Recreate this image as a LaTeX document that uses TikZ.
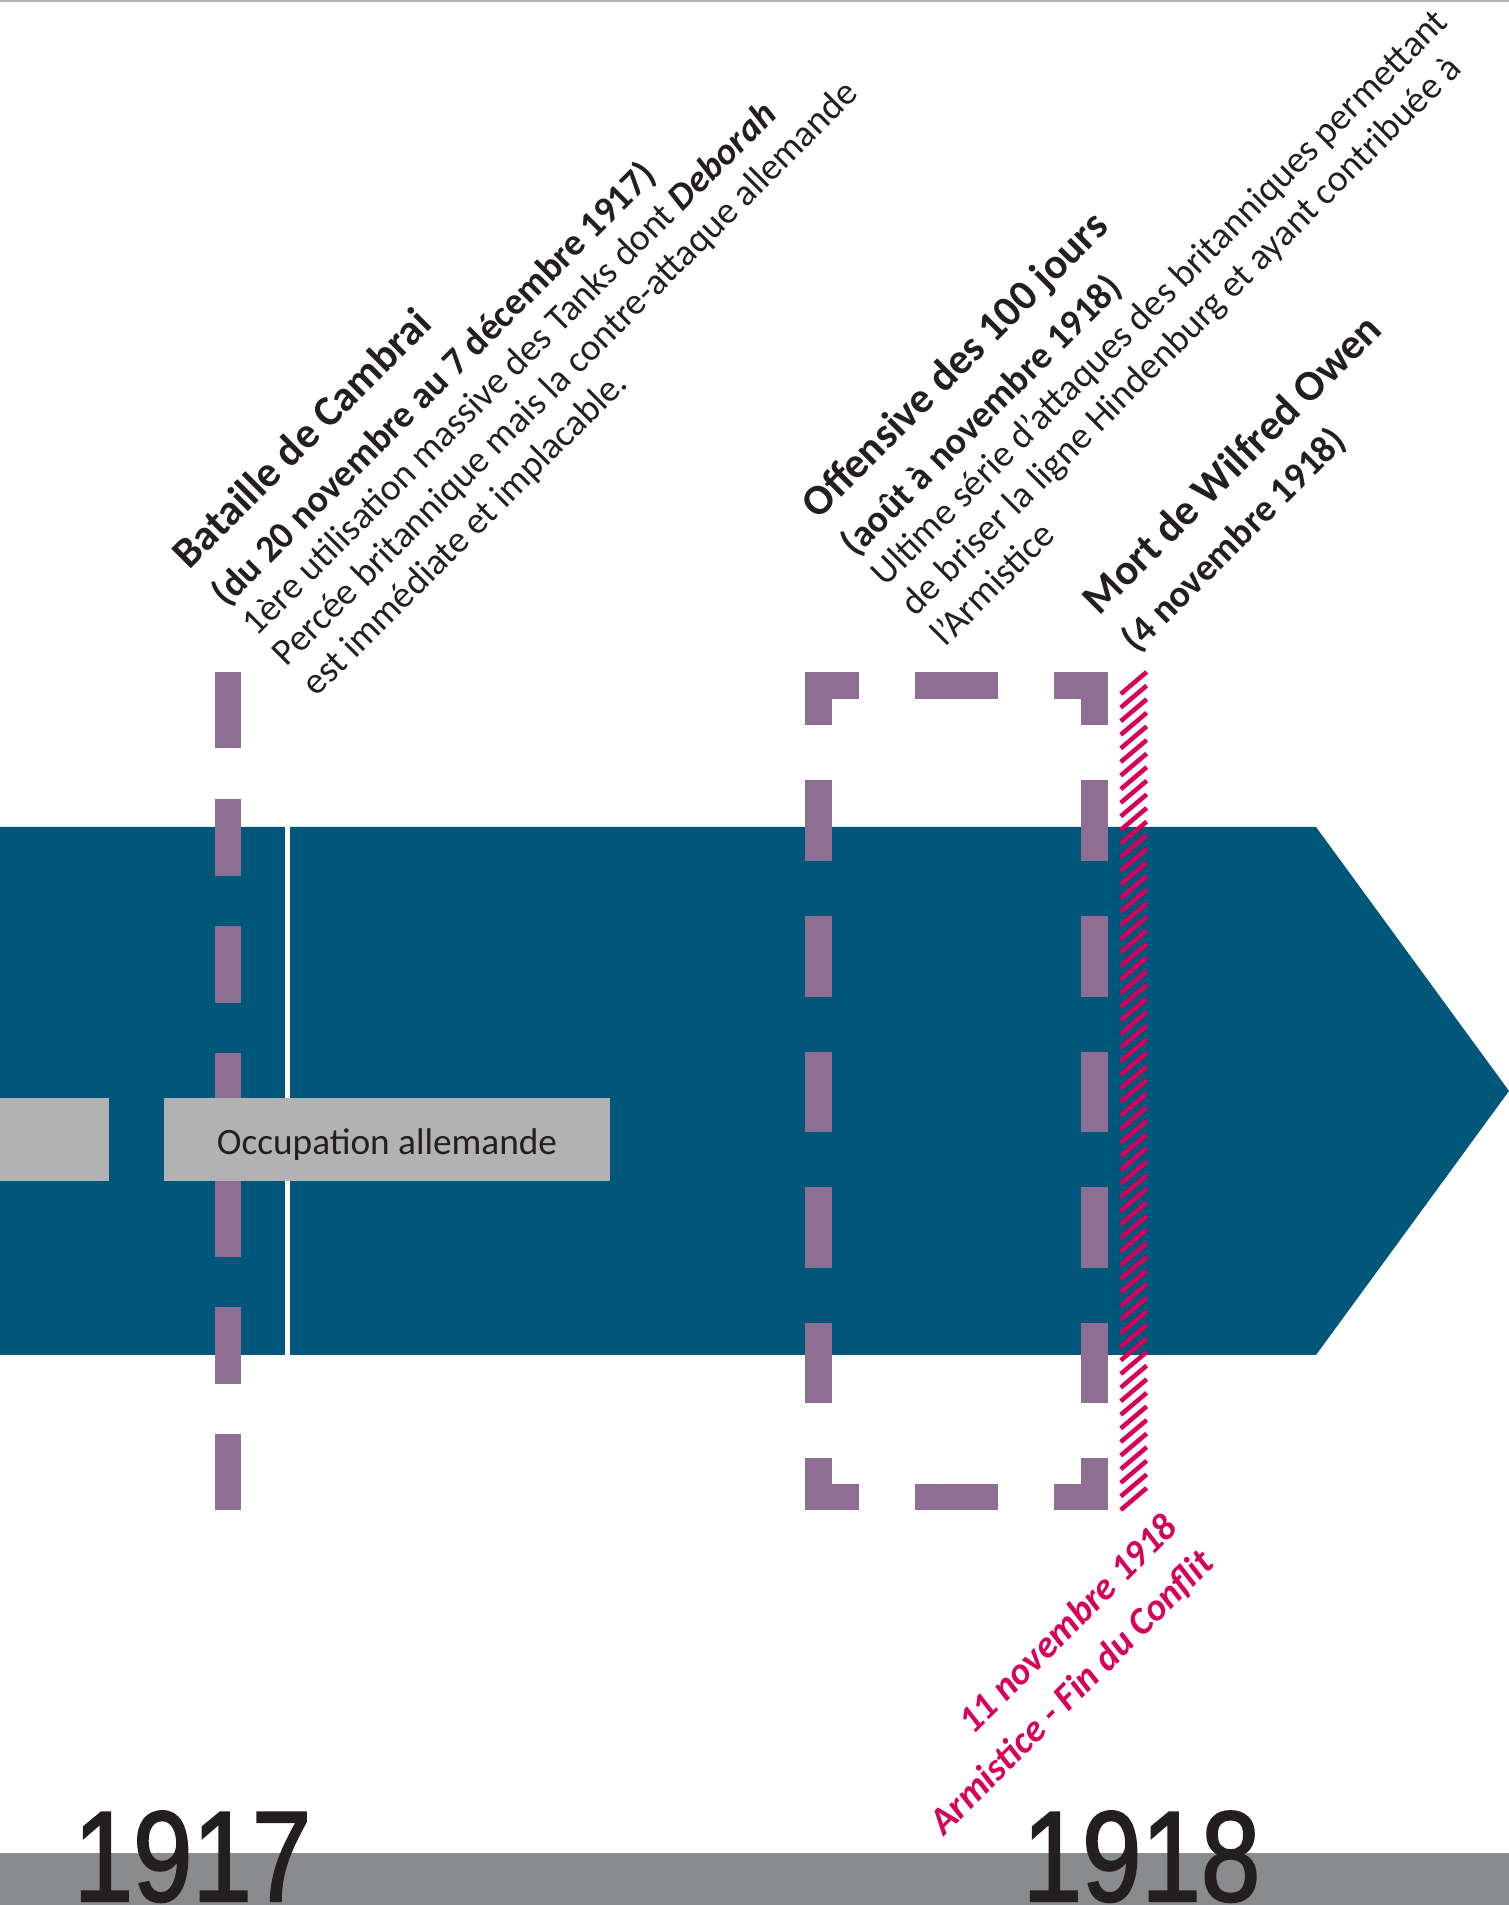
\documentclass[tikz,border=0pt]{standalone}
\usepackage{fontspec}
\setmainfont{Carlito}
\newfontfamily\yearfont[FakeStretch=0.83, FakeBold=1.6]{Liberation Sans}
\definecolor{bandeau}{RGB}{0,87,122}
\definecolor{mauve}{RGB}{143,110,148}
\definecolor{framboise}{RGB}{215,0,90}
\definecolor{encre}{RGB}{35,31,32}
\definecolor{grisclair}{RGB}{179,178,178}
\definecolor{grisfonce}{RGB}{138,139,141}

\begin{document}
\begin{tikzpicture}[x=0.01cm, y=0.01cm,
  titre/.style={anchor=base west, inner sep=0pt, transform shape, text=encre, font=\fontsize{12.2}{14}\selectfont\bfseries},
  sousTitre/.style={anchor=base west, inner sep=0pt, transform shape, text=encre, font=\fontsize{10.8}{13}\selectfont\bfseries},
  texte/.style={anchor=base west, inner sep=0pt, transform shape, text=encre, font=\fontsize{10.7}{12.5}\selectfont},
  armistice/.style={anchor=base east, inner sep=0pt, transform shape, text=framboise, font=\fontsize{10.8}{13}\selectfont\bfseries\itshape},
  annee/.style={anchor=base west, inner sep=0pt, text=encre, font=\yearfont\fontsize{36.6}{40}\selectfont},
  periode/.style={fill=grisclair, inner sep=0pt, minimum height=0.83cm, text=encre, text height=0.38cm, text depth=0.074cm, font=\fontsize{10.6}{13}\selectfont},
  tirets/.style={mauve, line width=0.267cm, dash pattern=on 0.764cm off 0.506cm},
  cadre/.style={mauve, line width=0.265cm},
  hachure/.style={framboise, line width=0.045cm}]
	\useasboundingbox (0,0) rectangle (1509,1905);
	\fill[grisfonce] (0,0) rectangle (1509,52);
	\draw[grisclair, line width=0.03cm] (0,1904) -- (1509,1904);
	\fill[bandeau] (0,550) -- (1316,550) -- (1509,814) -- (1316,1078) -- (0,1078) -- cycle;
	\draw[white, line width=0.05cm] (287.5,550) -- (287.5,1078);
	\draw[tirets] (228,1233) -- (228,395);
	\draw[cadre, dash pattern=on 0.805cm off 0.55cm, dash phase=0.271cm] (818.3,1233) -- (818.3,395);
	\draw[cadre, dash pattern=on 0.805cm off 0.55cm, dash phase=0.271cm] (1094.5,1233) -- (1094.5,395);
	\draw[cadre, dash pattern=on 0.543cm off 0.557cm on 0.827cm off 0.557cm on 0.6cm] (805,1219.7) -- (1107.7,1219.7);
	\draw[cadre, dash pattern=on 0.543cm off 0.557cm on 0.827cm off 0.557cm on 0.6cm] (805,408.2) -- (1107.7,408.2);
	\foreach \i in {0,...,60}
		\draw[hachure] (1120.7,{1211-13.6*\i}) -- (1146.7,{1233-13.6*\i});
	\node[periode, minimum width=1.09cm] (avant) at (54.5,765.5) {};
	\node[periode, minimum width=4.46cm] (occupation) at (387,765.5) {Occupation allemande};
	\node[annee] (an1917) at (73,4) {1917};
	\node[annee] (an1918) at (1022,4) {1918};
	\begin{scope}[shift={(189,1334)}, rotate=45]
		\node[titre] (cambrai) at (0,0) {Bataille de Cambrai};
		\node[sousTitre] (cambraiDates) at (0,-53) {(du 20 novembre au 7 décembre 1917)};
		\node[texte] (cambraiA) at (0,-95.4) {1ère utilisation massive des Tanks dont \textbf{\textit{Deborah}}};
		\node[texte] (cambraiB) at (0,-137.8) {Percée britannique mais la contre-attaque allemande};
		\node[texte] (cambraiC) at (0,-180.2) {est immédiate et implacable.};
	\end{scope}
	\begin{scope}[shift={(818,1384)}, rotate=45]
		\node[titre] (offensive) at (0,0) {Offensive des 100 jours};
		\node[sousTitre] (offensiveDates) at (0,-53) {(août à novembre 1918)};
		\node[texte] (offensiveA) at (0,-95.4) {Ultime série d’attaques des britanniques permettant};
		\node[texte] (offensiveB) at (0,-137.8) {de briser la ligne Hindenburg et ayant contribuée à};
		\node[texte] (offensiveC) at (0,-180.2) {l’Armistice};
	\end{scope}
	\begin{scope}[shift={(1099,1288)}, rotate=45]
		\node[titre] (owen) at (0,0) {Mort de Wilfred Owen};
		\node[sousTitre] (owenDate) at (0,-53) {(4 novembre 1918)};
	\end{scope}
	\begin{scope}[shift={(1180,376)}, rotate=45]
		\node[armistice] (finDate) at (0,0) {11 novembre 1918};
		\node[armistice] (fin) at (0,-51) {Armistice - Fin du Conflit};
	\end{scope}
\end{tikzpicture}
\end{document}
